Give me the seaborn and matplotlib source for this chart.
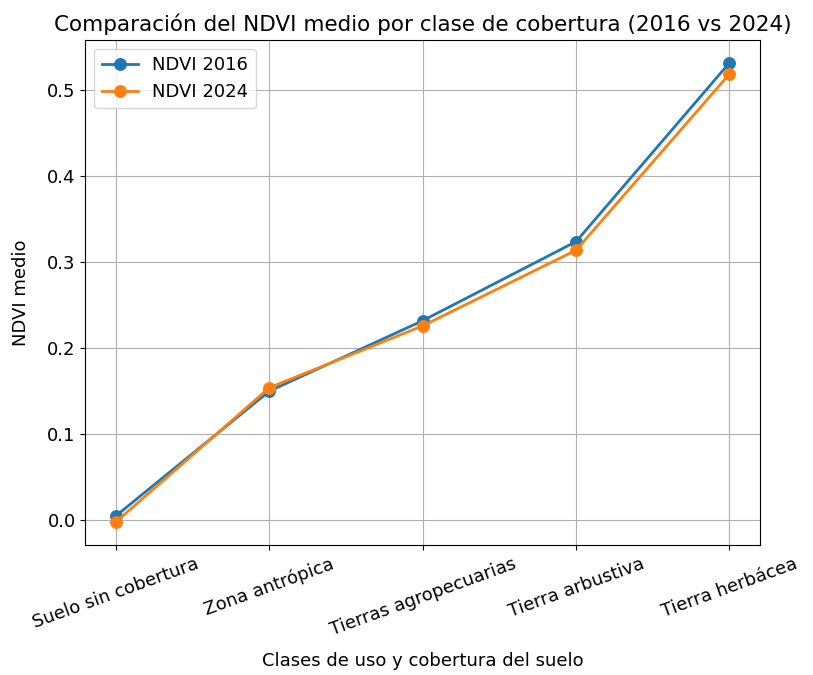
import pandas as pd
import matplotlib
matplotlib.use("Agg")
import matplotlib.pyplot as plt
import seaborn as sns

# clases de cobertura y NDVI medio
clases = ["Suelo sin cobertura", "Zona antrópica", "Tierras agropecuarias",
          "Tierra arbustiva", "Tierra herbácea"]
ndvi_2016 = [0.005, 0.150, 0.232, 0.324, 0.532]
ndvi_2024 = [-0.002, 0.154, 0.226, 0.314, 0.519]

df = pd.DataFrame({"Clase": clases, "NDVI 2016": ndvi_2016, "NDVI 2024": ndvi_2024})

fig = plt.figure(figsize=(8.13, 6.75), dpi=100)
ax = fig.add_axes([0.105, 0.193, 0.83, 0.748])

colores = {"NDVI 2016": "#1f77b4", "NDVI 2024": "#ff7f0e"}
for serie, color in colores.items():
    sns.lineplot(data=df, x="Clase", y=serie, ax=ax, color=color, marker="o",
                 markersize=8.5, markeredgecolor=color, linewidth=2, label=serie)

ax.set_title("Comparación del NDVI medio por clase de cobertura (2016 vs 2024)", fontsize=15.5)
ax.set_xlabel("Clases de uso y cobertura del suelo", fontsize=13, labelpad=10)
ax.set_ylabel("NDVI medio", fontsize=13, labelpad=12)
ax.tick_params(labelsize=13)
plt.xticks(rotation=20)
ax.grid(True, color="#b0b0b0")
ax.legend(loc="upper left", fontsize=13)

fig.savefig("out.png", dpi=100)
